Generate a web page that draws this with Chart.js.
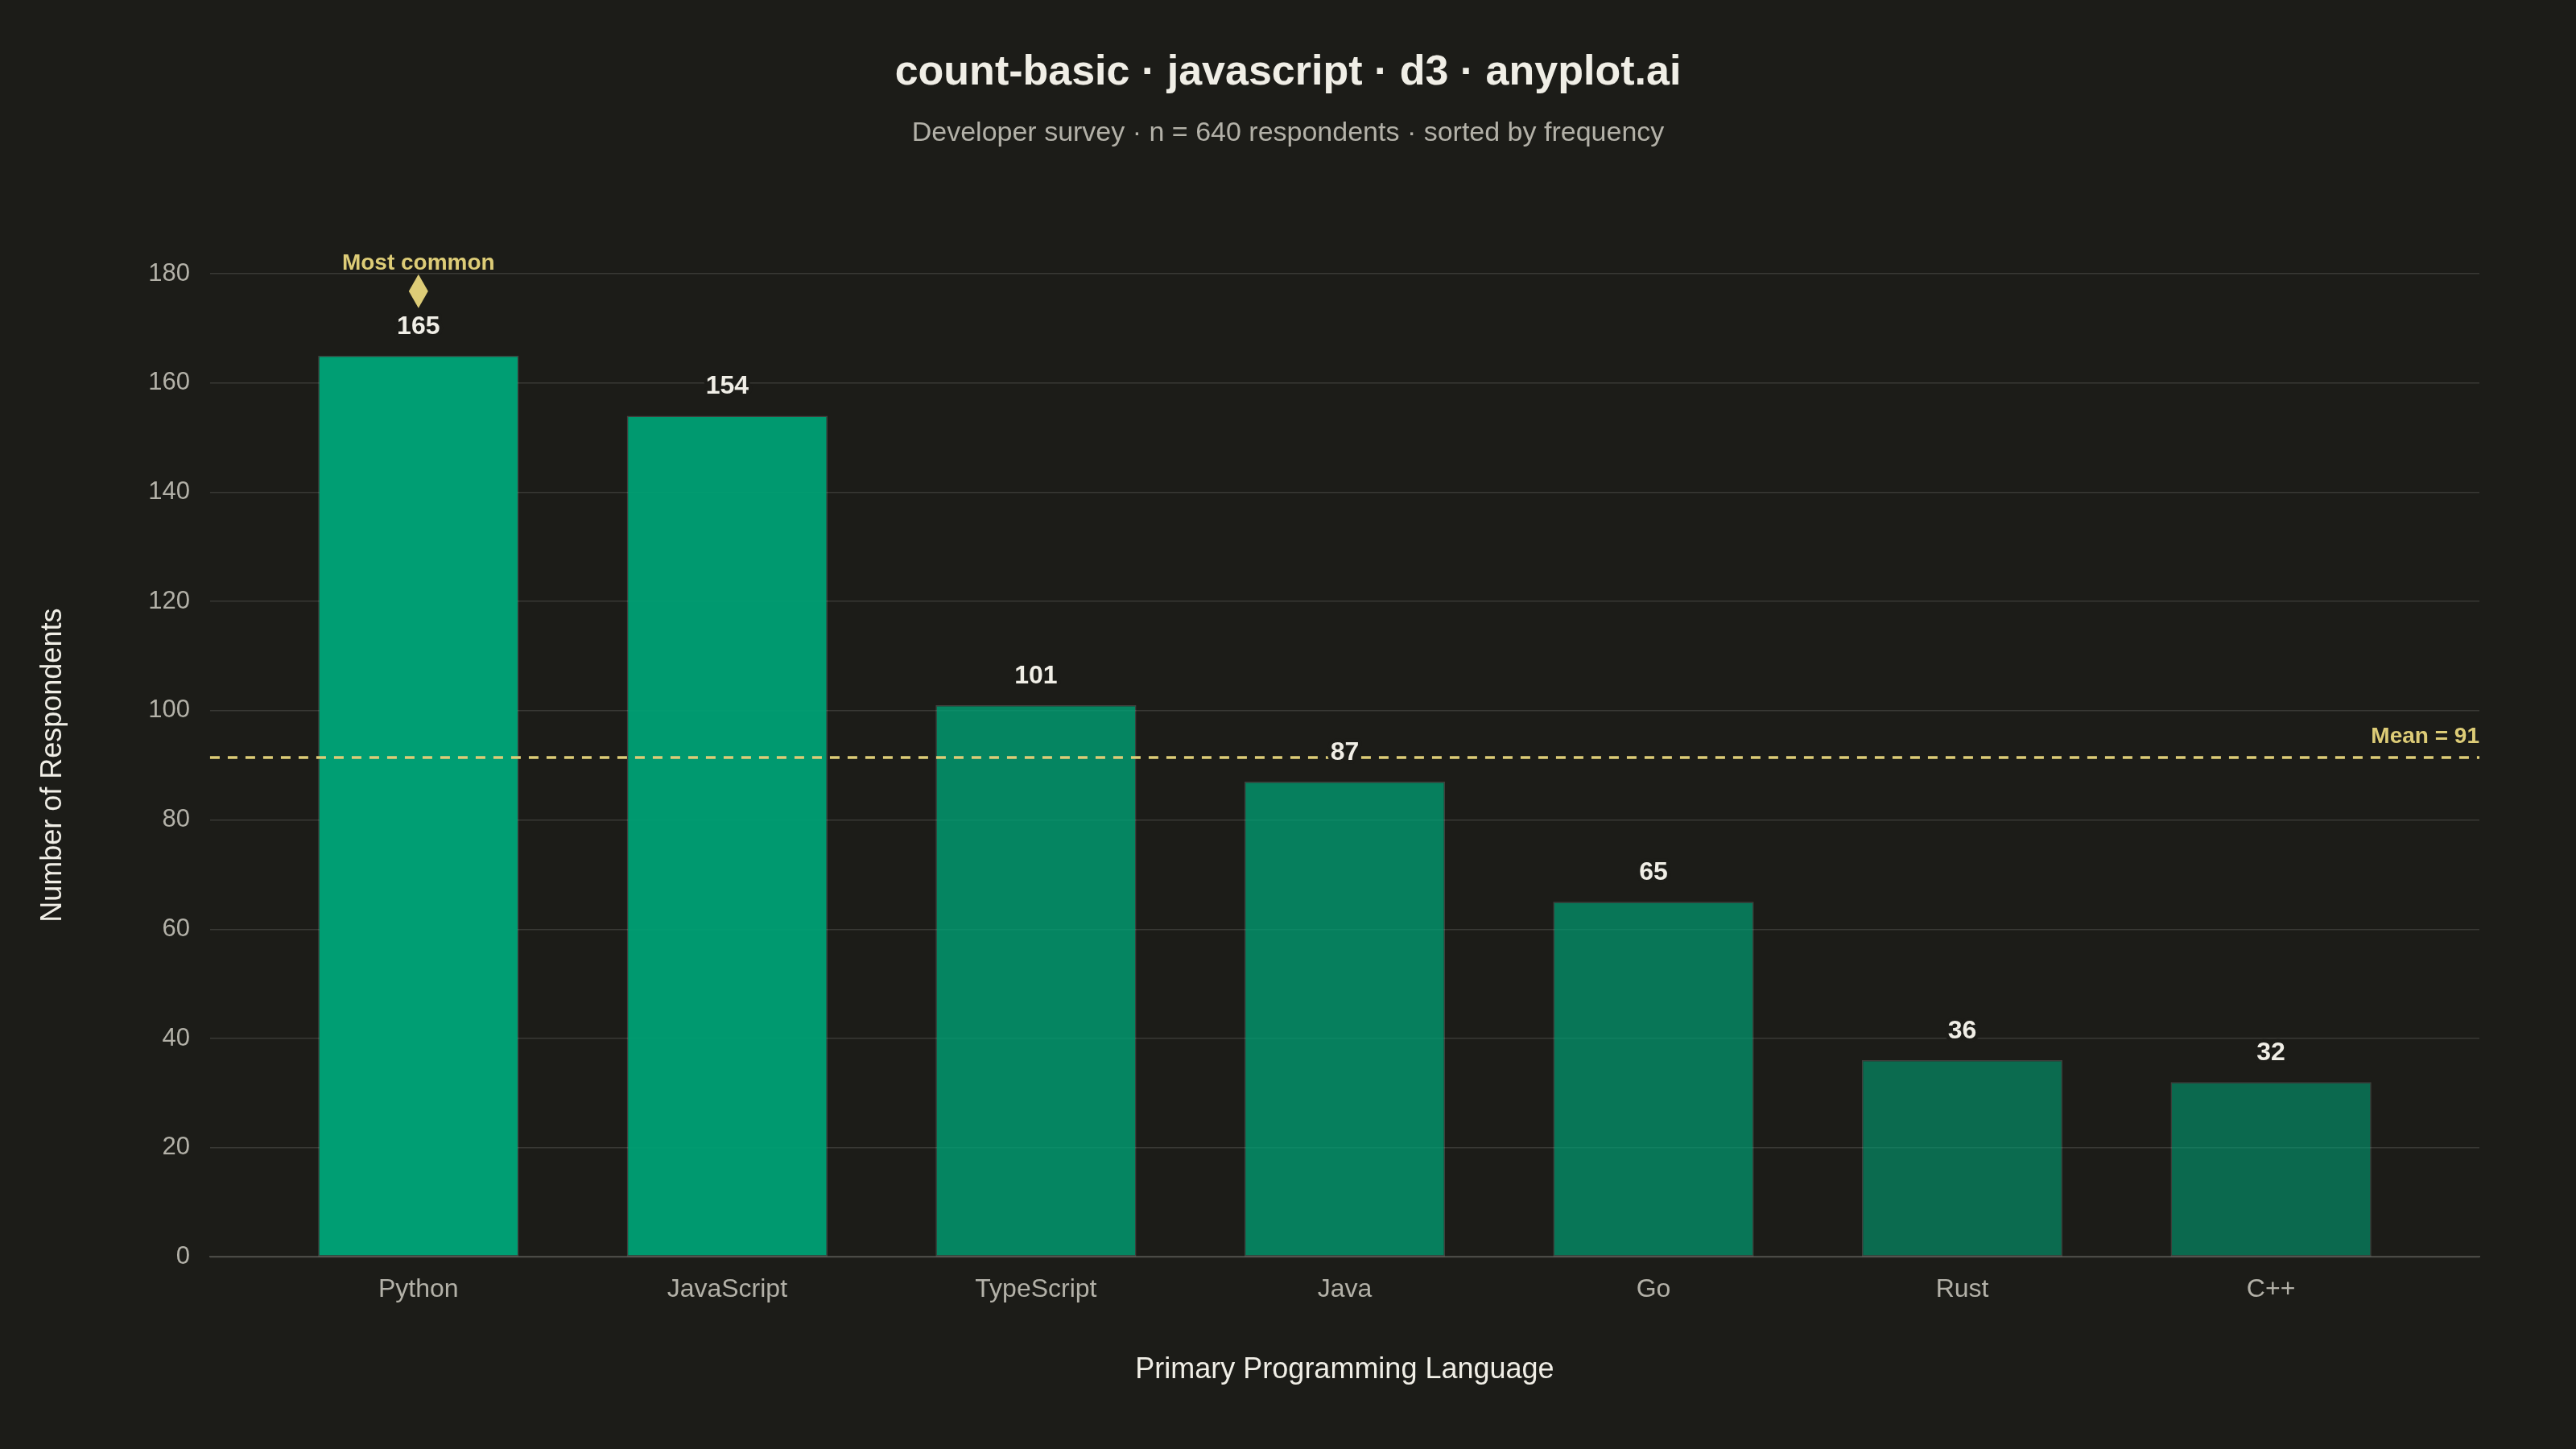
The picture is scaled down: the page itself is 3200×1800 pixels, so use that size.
<!DOCTYPE html>
<html>
<head>
<meta charset="utf-8">
<script src="https://cdn.jsdelivr.net/npm/chart.js@4.4.1/dist/chart.umd.min.js"></script>
<style>
  html, body { margin: 0; padding: 0; background: #1c1c18; }
  canvas { display: block; }
</style>
</head>
<body>
<canvas id="chart" width="3200" height="1800" style="width:3200px;height:1800px"></canvas>
<script>
// ---- data ----
const categories = ['Python', 'JavaScript', 'TypeScript', 'Java', 'Go', 'Rust', 'C++'];
const counts = [165, 154, 101, 87, 65, 36, 32];
const yMin = 0;
const yMax = 180;
const yStep = 20;
const titleText = 'count-basic · javascript · d3 · anyplot.ai';
const subtitleText = 'Developer survey · n = 640 respondents · sorted by frequency';
const xTitleText = 'Primary Programming Language';
const yTitleText = 'Number of Respondents';
const topLabelText = 'Most common';

// ---- style ----
const FONT = "'Liberation Sans', Arial, Helvetica, sans-serif";
const BG = '#1c1c18';
const GOLD = '#DDCC77';
const GRID = 'rgba(255,255,255,0.13)';
const TICK = '#b3b1a8';
const INK = '#f0eee6';

const total = counts.reduce((a, b) => a + b, 0);
const meanValue = total / counts.length;
const maxCount = Math.max(...counts);
const barColors = counts.map(v => `rgba(0,158,115,${(0.5 + 0.5 * v / maxCount).toFixed(3)})`);

const bgPlugin = {
  id: 'bg',
  beforeDraw(chart) {
    const { ctx, width, height } = chart;
    ctx.save();
    ctx.fillStyle = BG;
    ctx.fillRect(0, 0, width, height);
    // title + subtitle, centred on the full canvas
    ctx.textAlign = 'center';
    ctx.textBaseline = 'middle';
    ctx.fillStyle = INK;
    ctx.font = `bold 52px ${FONT}`;
    ctx.fillText(titleText, width / 2, 91);
    ctx.fillStyle = TICK;
    ctx.font = `34px ${FONT}`;
    ctx.fillText(subtitleText, width / 2, 166);
    ctx.restore();
  }
};

const overlayPlugin = {
  id: 'overlay',
  afterDatasetsDraw(chart) {
    const { ctx, chartArea, scales: { y } } = chart;
    const meta = chart.getDatasetMeta(0);
    ctx.save();
    // mean line
    const yMean = y.getPixelForValue(meanValue);
    ctx.setLineDash([12, 10]);
    ctx.lineWidth = 3.5;
    ctx.strokeStyle = GOLD;
    ctx.beginPath();
    ctx.moveTo(chartArea.left, yMean);
    ctx.lineTo(chartArea.right, yMean);
    ctx.stroke();
    ctx.setLineDash([]);
    ctx.font = `bold 28px ${FONT}`;
    ctx.fillStyle = GOLD;
    ctx.textAlign = 'right';
    ctx.textBaseline = 'alphabetic';
    ctx.fillText('Mean = ' + Math.round(meanValue), chartArea.right, yMean - 18);

    // value labels with halo
    ctx.font = `bold 32px ${FONT}`;
    ctx.textAlign = 'center';
    ctx.lineJoin = 'round';
    meta.data.forEach((bar, i) => {
      const t = String(counts[i]);
      const by = bar.y - 27;
      ctx.lineWidth = 9;
      ctx.strokeStyle = BG;
      ctx.strokeText(t, bar.x, by);
      ctx.fillStyle = INK;
      ctx.fillText(t, bar.x, by);
    });

    // most common marker
    const iMax = counts.indexOf(maxCount);
    const top = meta.data[iMax];
    const cy = top.y - 80;
    ctx.fillStyle = GOLD;
    ctx.beginPath();
    ctx.moveTo(top.x, cy - 21);
    ctx.lineTo(top.x + 12, cy);
    ctx.lineTo(top.x, cy + 21);
    ctx.lineTo(top.x - 12, cy);
    ctx.closePath();
    ctx.fill();
    ctx.font = `bold 28px ${FONT}`;
    ctx.fillText(topLabelText, top.x, top.y - 107);
    ctx.restore();
  }
};

new Chart(document.getElementById('chart'), {
  type: 'bar',
  data: {
    datasets: [{
      data: counts.map((v, i) => ({ x: i, y: v })),
      backgroundColor: barColors,
      borderColor: 'rgba(255,255,255,0.16)',
      borderWidth: 1.5,
      borderSkipped: false,
      categoryPercentage: 1.0,
      barPercentage: 0.65
    }]
  },
  options: {
    responsive: false,
    devicePixelRatio: 1,
    animation: false,
    layout: { padding: { left: 20, right: 120, top: 340, bottom: 76 } },
    plugins: {
      legend: { display: false },
      tooltip: { enabled: false },
      title: { display: false },
      subtitle: { display: false }
    },
    scales: {
      x: {
        type: 'linear',
        min: -0.675,
        max: categories.length - 1 + 0.675,
        offset: false,
        afterBuildTicks: (axis) => { axis.ticks = categories.map((_, i) => ({ value: i })); },
        grid: { display: false, offset: false, drawTicks: false },
        border: { display: true, color: '#4a4a45', width: 2 },
        ticks: {
          autoSkip: false,
          maxRotation: 0,
          padding: 22,
          color: TICK,
          font: { family: FONT, size: 32 },
          callback: (v) => categories[v] ?? ''
        },
        title: {
          display: true,
          text: xTitleText,
          color: INK,
          font: { family: FONT, size: 36, lineHeight: 1.2 },
          padding: { top: 37, bottom: 0 }
        }
      },
      y: {
        min: yMin,
        max: yMax,
        grid: { color: GRID, lineWidth: 1.5, drawTicks: false },
        border: { display: false },
        ticks: {
          stepSize: yStep,
          padding: 25,
          color: TICK,
          font: { family: FONT, size: 31 }
        },
        title: {
          display: true,
          text: yTitleText,
          color: INK,
          font: { family: FONT, size: 36, lineHeight: 1.2 },
          padding: { top: 24, bottom: 72 }
        }
      }
    }
  },
  plugins: [bgPlugin, overlayPlugin]
});
</script>
</body>
</html>
